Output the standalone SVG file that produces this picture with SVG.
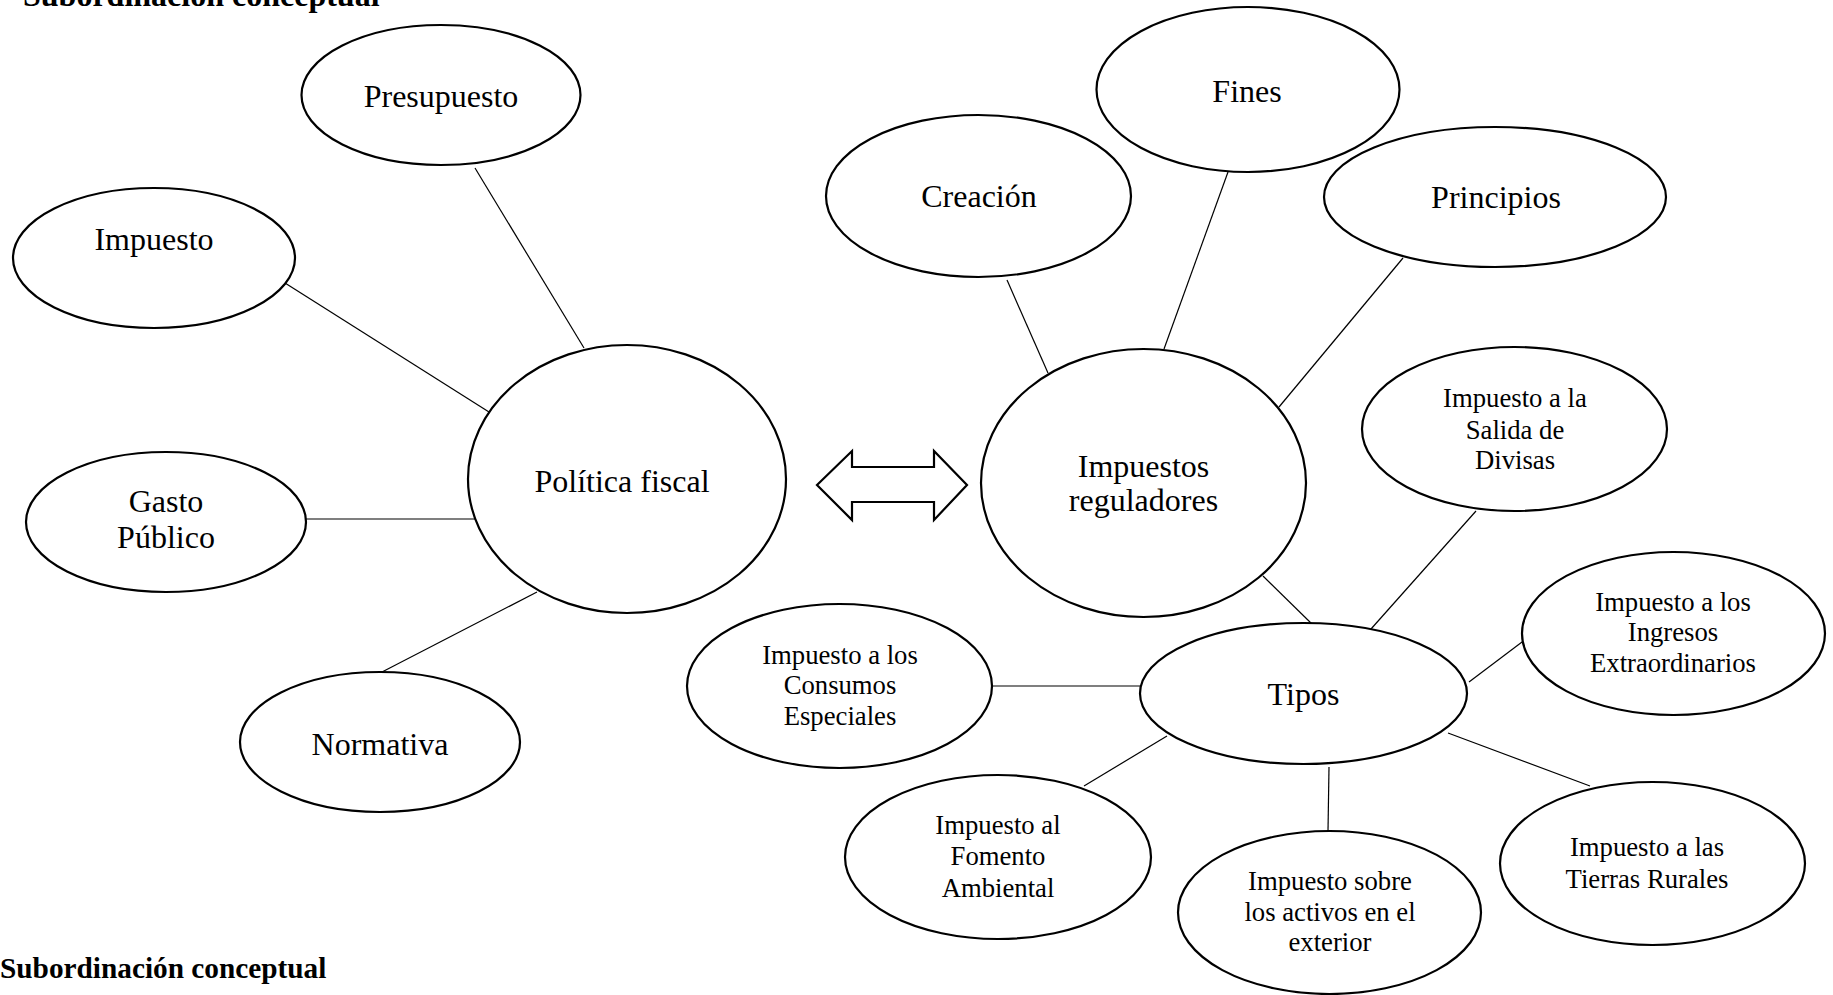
<svg xmlns="http://www.w3.org/2000/svg" width="1833" height="995" viewBox="0 0 1833 995">
<style>
.n{fill:#fff;stroke:#000;stroke-width:2.2}
.c line{stroke:#000;stroke-width:1.2}
text{font-family:"Liberation Serif","Times New Roman",serif;fill:#000;text-anchor:middle}
.b{font-size:32px}
.s{font-size:26.7px}
.t{font-weight:bold;text-anchor:start}
</style>
<rect width="1833" height="995" fill="#fff"/>
<text class="t" x="23" y="6" font-size="32">Subordinación conceptual</text>
<text class="t" x="0" y="978" font-size="29.3">Subordinación conceptual</text>
<g class="c" id="connectors">
<line x1="475" y1="168" x2="584" y2="348"/>
<line x1="285" y1="283" x2="489" y2="412"/>
<line x1="306" y1="519" x2="480" y2="519"/>
<line x1="382" y1="672" x2="537" y2="592"/>
<line x1="1007" y1="280" x2="1048" y2="373"/>
<line x1="1228" y1="172" x2="1164" y2="349"/>
<line x1="1403" y1="258" x2="1279" y2="407"/>
<line x1="1263" y1="576" x2="1314" y2="626"/>
<line x1="1476" y1="511" x2="1371" y2="629"/>
<line x1="1526" y1="639" x2="1469" y2="682"/>
<line x1="992" y1="686" x2="1143" y2="686"/>
<line x1="1084" y1="786" x2="1167" y2="736"/>
<line x1="1329" y1="767" x2="1328" y2="831"/>
<line x1="1448" y1="733" x2="1590" y2="786"/>
<polygon points="817,485 852,451 852,467 934,467 934,451 967,485 934,520 934,502 852,502 852,520" fill="#fff" stroke="#000" stroke-width="2.2"/>
</g>
<g id="presupuesto"><ellipse class="n" cx="441" cy="95" rx="139.5" ry="70"/><text class="b" x="441" y="107">Presupuesto</text></g>
<g id="impuesto"><ellipse class="n" cx="154" cy="258" rx="141" ry="70"/><text class="b" x="154" y="250">Impuesto</text></g>
<g id="politica"><ellipse class="n" cx="627" cy="479" rx="159" ry="134"/><text class="b" x="622" y="492">Política fiscal</text></g>
<g id="gasto"><ellipse class="n" cx="166" cy="522" rx="140" ry="70"/><text class="b" x="166" y="512">Gasto</text><text class="b" x="166" y="548">Público</text></g>
<g id="normativa"><ellipse class="n" cx="380" cy="742" rx="140" ry="70"/><text class="b" x="380" y="755">Normativa</text></g>
<g id="fines"><ellipse class="n" cx="1248" cy="89.5" rx="151.5" ry="82.5"/><text class="b" x="1247" y="102">Fines</text></g>
<g id="creacion"><ellipse class="n" cx="978.5" cy="196" rx="152.5" ry="81"/><text class="b" x="979" y="207">Creación</text></g>
<g id="principios"><ellipse class="n" cx="1495" cy="197" rx="171" ry="70"/><text class="b" x="1496" y="208">Principios</text></g>
<g id="reguladores"><ellipse class="n" cx="1143.5" cy="483" rx="162.5" ry="134"/><text class="b" x="1143.5" y="477">Impuestos</text><text class="b" x="1143.5" y="511">reguladores</text></g>
<g id="divisas"><ellipse class="n" cx="1514.5" cy="429" rx="152.5" ry="82"/><text class="s" x="1515" y="407">Impuesto a la</text><text class="s" x="1515" y="439">Salida de</text><text class="s" x="1515" y="469">Divisas</text></g>
<g id="ingresos"><ellipse class="n" cx="1673.5" cy="633.5" rx="151.5" ry="81.5"/><text class="s" x="1673" y="611">Impuesto a los</text><text class="s" x="1673" y="641">Ingresos</text><text class="s" x="1673" y="672">Extraordinarios</text></g>
<g id="tipos"><ellipse class="n" cx="1303.5" cy="693.5" rx="163.5" ry="70.5"/><text class="b" x="1303.5" y="705">Tipos</text></g>
<g id="consumos"><ellipse class="n" cx="839.5" cy="686" rx="152.5" ry="82"/><text class="s" x="840" y="664">Impuesto a los</text><text class="s" x="840" y="694">Consumos</text><text class="s" x="840" y="725">Especiales</text></g>
<g id="fomento"><ellipse class="n" cx="998" cy="857" rx="153" ry="82"/><text class="s" x="998" y="834">Impuesto al</text><text class="s" x="998" y="865">Fomento</text><text class="s" x="998" y="897">Ambiental</text></g>
<g id="activos"><ellipse class="n" cx="1329.5" cy="912.5" rx="151.5" ry="81.5"/><text class="s" x="1330" y="890">Impuesto sobre</text><text class="s" x="1330" y="921">los activos en el</text><text class="s" x="1330" y="951">exterior</text></g>
<g id="tierras"><ellipse class="n" cx="1652.5" cy="863.5" rx="152.5" ry="81.5"/><text class="s" x="1647" y="856">Impuesto a las</text><text class="s" x="1647" y="888">Tierras Rurales</text></g>
</svg>
